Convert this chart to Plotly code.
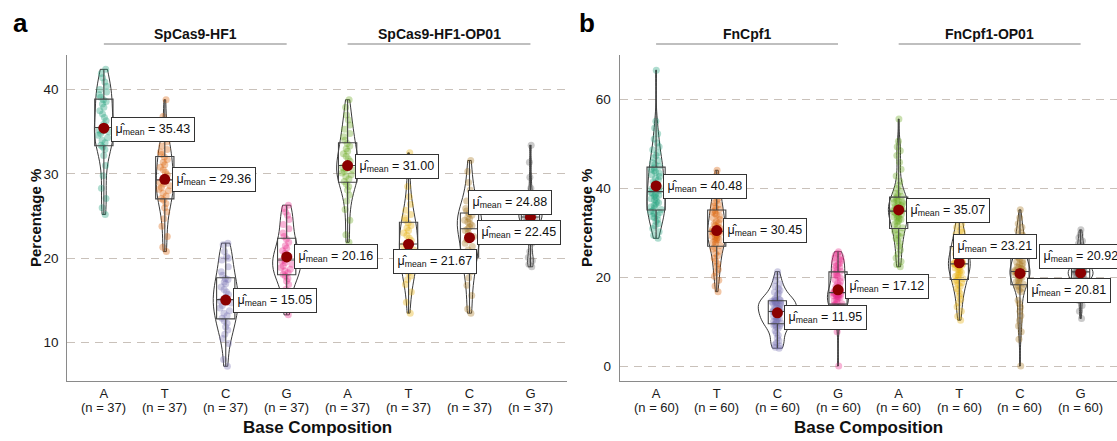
import numpy as np
import plotly.graph_objects as go

# ---------------- data ----------------
bases = ["A", "T", "C", "G", "A", "T", "C", "G"]
panel_a_groups = ["SpCas9-HF1", "SpCas9-HF1-OP01"]
panel_b_groups = ["FnCpf1", "FnCpf1-OP01"]

a_HF1_A = [25.2, 26.0, 27.1, 28.3, 29.8, 31.0, 32.2, 32.9, 33.2, 33.4, 33.7, 34.0, 34.3, 34.6, 34.8, 35.0, 35.1, 35.2, 35.5,
           35.9, 36.3, 36.7, 37.1, 37.5, 37.9, 38.3, 38.6, 38.8, 39.1, 39.4, 39.7, 40.0, 40.4, 40.9, 41.4, 41.9, 42.4]
a_HF1_T = [20.8, 21.3, 22.6, 23.8, 24.7, 25.5, 26.0, 26.5, 26.9, 27.1, 27.4, 27.7, 28.0, 28.2, 28.4, 28.6, 28.8, 29.0, 29.3,
           29.6, 29.9, 30.2, 30.5, 30.8, 31.1, 31.4, 31.7, 32.0, 32.3, 32.6, 32.9, 33.3, 33.8, 34.3, 35.0, 36.8, 38.8]
a_HF1_C = [7.2, 8.0, 9.9, 10.5, 11.0, 11.5, 11.9, 12.3, 12.6, 12.9, 13.2, 13.5, 13.8, 14.1, 14.4, 14.7, 14.9, 14.9, 15.1,
           15.4, 15.7, 16.0, 16.3, 16.6, 17.0, 17.2, 17.5, 17.6, 18.0, 18.4, 19.0, 19.8, 20.0, 20.2, 20.8, 21.6, 21.8]
a_HF1_G = [13.3, 13.9, 14.8, 15.6, 16.3, 16.9, 17.3, 17.6, 17.9, 18.1, 18.3, 18.5, 18.7, 18.9, 19.1, 19.3, 19.5, 19.7, 19.8,
           20.0, 20.2, 20.4, 20.6, 20.9, 21.2, 21.5, 21.9, 22.3, 22.6, 23.0, 23.5, 24.0, 24.6, 25.1, 25.5, 25.9, 26.3]
a_OP01_A = [21.9, 22.8, 24.5, 25.8, 26.8, 27.5, 28.1, 28.5, 28.8, 29.1, 29.4, 29.7, 29.9, 30.1, 30.3, 30.5, 30.6, 30.8, 31.0,
            31.2, 31.5, 31.8, 32.1, 32.4, 32.7, 33.0, 33.3, 33.6, 34.0, 34.4, 34.8, 35.3, 35.8, 36.4, 37.0, 37.9, 38.8]
a_OP01_T = [13.5, 14.8, 16.0, 16.9, 17.5, 17.9, 18.3, 18.6, 18.9, 19.2, 19.5, 19.8, 20.1, 20.4, 20.7, 21.0, 21.3, 21.5, 21.7,
            21.9, 22.1, 22.4, 22.7, 23.0, 23.3, 23.6, 23.9, 24.2, 24.5, 24.8, 25.2, 25.7, 26.4, 27.3, 28.5, 30.3, 32.5]
a_OP01_C = [13.5, 14.0, 15.6, 16.8, 17.7, 18.4, 19.0, 19.5, 19.9, 20.2, 20.6, 21.0, 21.4, 21.8, 22.2, 22.6, 23.0, 23.3, 23.5,
            23.7, 23.9, 24.1, 24.3, 24.5, 24.7, 24.9, 25.1, 25.3, 25.6, 25.9, 26.3, 26.8, 27.4, 28.1, 29.0, 30.3, 31.6]
a_OP01_G = [19.0, 19.3, 19.7, 20.1, 20.8, 21.8, 22.6, 23.1, 23.4, 23.6, 23.8, 24.0, 24.2, 24.3, 24.5, 24.6, 24.7, 24.8, 24.9,
            25.0, 25.1, 25.2, 25.3, 25.4, 25.5, 25.6, 25.7, 25.8, 25.9, 26.1, 26.4, 26.8, 27.5, 28.3, 29.6, 31.4, 33.4]
a_means = [35.43, 29.36, 15.05, 20.16, 31.00, 21.67, 22.45, 24.88]

b_Fn_A = [28.7, 29.4, 30.2, 30.9, 31.5, 32.0, 32.5, 32.9, 33.3, 33.6, 33.9, 34.2, 34.5, 34.7, 34.9,
          35.2, 35.5, 35.8, 36.1, 36.4, 36.7, 37.0, 37.3, 37.6, 37.9, 38.2, 38.4, 38.6, 38.8, 39.0,
          39.4, 39.8, 40.2, 40.6, 41.0, 41.4, 41.8, 42.2, 42.6, 43.0, 43.3, 43.6, 43.9, 44.2, 44.5,
          44.9, 45.3, 45.7, 46.2, 46.8, 47.3, 47.9, 48.6, 49.3, 50.1, 51.0, 52.2, 53.5, 55.0, 66.5]
b_Fn_T = [16.7, 18.0, 19.3, 20.2, 21.0, 21.7, 22.4, 23.0, 23.6, 24.2, 24.8, 25.3, 25.8, 26.3, 26.7,
          27.1, 27.5, 27.8, 28.1, 28.4, 28.5, 28.8, 29.0, 29.2, 29.4, 29.6, 29.8, 30.0, 30.1, 30.2,
          30.4, 30.7, 31.0, 31.3, 31.6, 31.9, 32.2, 32.5, 32.9, 33.3, 33.7, 34.0, 34.3, 34.6, 34.9,
          35.2, 35.5, 35.9, 36.3, 36.7, 37.2, 37.7, 38.3, 38.9, 39.6, 40.3, 41.0, 41.8, 42.8, 44.0]
b_Fn_C = [4.0, 4.2, 4.5, 4.8, 5.2, 5.7, 6.3, 6.9, 7.4, 7.9, 8.5, 8.8, 9.0, 9.2, 9.4,
          9.6, 9.8, 10.0, 10.2, 10.4, 10.6, 10.8, 11.0, 11.2, 11.4, 11.6, 11.8, 12.0, 12.1, 12.2,
          12.3, 12.5, 12.7, 12.9, 13.1, 13.3, 13.5, 13.7, 13.9, 14.1, 14.2, 14.3, 14.4, 14.5, 14.6,
          14.7, 14.8, 14.9, 15.0, 15.2, 16.0, 16.3, 16.6, 17.0, 17.4, 17.9, 18.5, 19.2, 20.1, 21.2]
b_Fn_G = [0.0, 7.7, 9.8, 10.9, 11.6, 12.1, 12.5, 12.8, 13.0, 13.2, 13.3, 13.4, 13.5, 13.6, 13.8,
          14.0, 14.3, 14.6, 14.9, 15.2, 15.4, 15.6, 15.7, 15.8, 15.9, 16.0, 16.1, 16.2, 16.3, 16.4,
          16.6, 16.8, 17.0, 17.3, 17.6, 17.9, 18.2, 18.6, 19.0, 19.4, 19.8, 20.1, 20.4, 20.7, 21.0,
          21.3, 21.6, 21.9, 22.2, 22.5, 22.8, 23.1, 23.4, 23.7, 24.0, 24.3, 24.6, 24.9, 25.3, 25.7]
b_OP01_A = [22.3, 22.8, 23.5, 24.3, 25.2, 26.1, 26.9, 27.6, 28.2, 28.7, 29.1, 29.5, 29.9, 30.3, 30.7,
            31.1, 31.5, 31.9, 32.3, 32.6, 32.9, 33.1, 33.3, 33.5, 33.7, 33.9, 34.1, 34.3, 34.5, 34.7,
            34.9, 35.1, 35.3, 35.5, 35.7, 35.9, 36.1, 36.3, 36.5, 36.7, 36.9, 37.1, 37.3, 37.5, 37.8,
            38.1, 38.4, 38.8, 39.3, 39.9, 40.6, 41.5, 42.7, 44.2, 45.8, 47.3, 48.4, 49.3, 50.5, 55.5]
b_OP01_T = [10.3, 11.2, 12.3, 13.3, 14.2, 15.0, 15.7, 16.3, 16.9, 17.4, 17.9, 18.3, 18.7, 19.0, 19.3,
            19.6, 19.9, 20.2, 20.5, 20.8, 21.1, 21.4, 21.7, 22.0, 22.2, 22.4, 22.6, 22.7, 22.8, 22.9,
            23.0, 23.2, 23.4, 23.6, 23.8, 24.0, 24.3, 24.6, 24.9, 25.2, 25.5, 25.8, 26.1, 26.4, 26.7,
            27.0, 27.3, 27.6, 27.9, 28.3, 28.7, 29.1, 29.6, 30.1, 30.6, 31.2, 31.9, 32.7, 33.5, 34.3]
b_OP01_C = [0.0, 6.0, 7.7, 9.0, 10.2, 11.3, 12.3, 13.2, 14.0, 14.8, 16.7, 17.1, 17.5, 17.8, 18.1,
            18.4, 18.7, 19.0, 19.3, 19.6, 19.9, 20.1, 20.3, 20.5, 20.7, 20.8, 20.9, 21.0, 21.1, 21.2,
            21.3, 21.5, 21.7, 21.9, 22.1, 22.3, 22.5, 22.8, 23.1, 23.4, 23.7, 24.0, 24.4, 24.8, 25.3,
            25.8, 26.3, 26.8, 27.3, 27.8, 28.0, 28.4, 28.9, 29.4, 29.9, 30.5, 31.2, 32.0, 33.3, 35.1]
b_OP01_G = [10.7, 12.3, 13.6, 14.7, 15.6, 16.3, 16.9, 17.4, 17.8, 18.1, 18.4, 18.7, 18.9, 19.1, 19.3,
            19.5, 19.7, 19.9, 20.0, 20.1, 20.2, 20.3, 20.4, 20.5, 20.6, 20.7, 20.8, 20.9, 21.0, 21.1,
            21.2, 21.3, 21.4, 21.5, 21.6, 21.7, 21.8, 22.0, 22.2, 22.4, 22.6, 22.8, 23.0, 23.2, 23.4,
            23.6, 23.9, 24.2, 24.5, 24.8, 25.2, 25.6, 26.0, 26.5, 27.0, 27.5, 28.1, 28.8, 29.6, 30.6]
b_means = [40.48, 30.45, 11.95, 17.12, 35.07, 23.21, 20.81, 20.92]

a_data = [a_HF1_A, a_HF1_T, a_HF1_C, a_HF1_G, a_OP01_A, a_OP01_T, a_OP01_C, a_OP01_G]
b_data = [b_Fn_A, b_Fn_T, b_Fn_C, b_Fn_G, b_OP01_A, b_OP01_T, b_OP01_C, b_OP01_G]

# ---------------- styles / layout constants ----------------
palette = ["#1B9E77", "#D95F02", "#7570B3", "#E7298A", "#66A61E", "#E6AB02", "#A6761D", "#666666"]
FONT = "Liberation Sans, Arial, Helvetica, sans-serif"
W, H = 1117, 441
TICK_SIZE = 13
# maximum violin widths (x units), as drawn in the original figure
a_violin_width = [0.31, 0.28, 0.41, 0.46, 0.36, 0.30, 0.40, 0.38]
b_violin_width = [0.30, 0.30, 0.63, 0.35, 0.34, 0.36, 0.33, 0.41]
# label offsets (pixels) for the mean labels: (xshift, yshift)
a_label_shift = [(7, -1), (7, 0), (7, 0), (7, 0), (7, -1), (-16, -17), (7, 5), (-62, 15)]
b_label_shift = [(7, -1), (6, 0), (7, -5), (7, 3), (7, -1), (-6, 16), (7, -17), (-42, 16)]


def nrd0(x):
    x = np.asarray(x, float)
    sd = np.std(x, ddof=1)
    q75, q25 = np.percentile(x, [75, 25])
    lo = min(sd, (q75 - q25) / 1.34)
    if lo <= 0:
        lo = sd
    return 0.9 * lo * len(x) ** -0.2


def hex_rgba(h, a):
    h = h.lstrip("#")
    return f"rgba({int(h[0:2],16)},{int(h[2:4],16)},{int(h[4:6],16)},{a})"


fig = go.Figure()


def add_panel(data, means, shifts, vwidths, xa, ya):
    for i, vals in enumerate(data):
        n = len(vals)
        xs = [i] * n
        # jittered points
        fig.add_trace(go.Box(
            x=xs, y=vals, xaxis=xa, yaxis=ya, boxpoints="all", jitter=0.65, pointpos=0,
            width=0.3, fillcolor="rgba(0,0,0,0)", line=dict(width=0, color="rgba(0,0,0,0)"),
            whiskerwidth=0, marker=dict(color=hex_rgba(palette[i], 0.35), size=7, line=dict(width=0)),
            hoverinfo="skip", showlegend=False))
        # box outline
        fig.add_trace(go.Box(
            x=xs, y=vals, xaxis=xa, yaxis=ya, boxpoints=False, width=0.3,
            fillcolor="rgba(0,0,0,0)", line=dict(width=1.1, color="#444444"), whiskerwidth=0,
            hoverinfo="skip", showlegend=False))
        # violin outline
        fig.add_trace(go.Violin(
            x=xs, y=vals, xaxis=xa, yaxis=ya, points=False, spanmode="hard",
            bandwidth=nrd0(vals), scalemode="width", width=vwidths[i],
            fillcolor="rgba(255,255,255,0)", line=dict(width=0.9, color="#222222"),
            box=dict(visible=False), meanline=dict(visible=False),
            hoverinfo="skip", showlegend=False))
    # means
    fig.add_trace(go.Scatter(
        x=list(range(len(means))), y=means, xaxis=xa, yaxis=ya, mode="markers",
        marker=dict(color="#8B0000", size=11), hoverinfo="skip", showlegend=False))
    for i, m in enumerate(means):
        fig.add_annotation(
            x=i, y=m, xref=xa, yref=ya, xanchor="left", yanchor="middle",
            xshift=shifts[i][0], yshift=shifts[i][1], showarrow=False,
            text=f"\u03bc\u0302<sub>mean</sub> = {m:.2f}",
            font=dict(family=FONT, size=12.5, color="#111111"),
            bgcolor="white", bordercolor="#333333", borderwidth=1, borderpad=3.5)
    # sample sizes under the category letters
    for i, vals in enumerate(data):
        fig.add_annotation(
            x=i, y=(H - 407.5) / H, xref=xa, yref="paper", showarrow=False,
            text=f"(n = {len(vals)})", font=dict(family=FONT, size=TICK_SIZE, color="#1a1a1a"),
            xanchor="center", yanchor="middle")


add_panel(a_data, a_means, a_label_shift, a_violin_width, "x", "y")
add_panel(b_data, b_means, b_label_shift, b_violin_width, "x2", "y2")

ydom = [60 / H, 386 / H]
axis_common = dict(showline=True, linecolor="#8a8a8a", linewidth=1.2, mirror=False,
                   tickfont=dict(family=FONT, size=13.5, color="#1a1a1a"), zeroline=False)
xaxis_common = dict(axis_common, tickfont=dict(family=FONT, size=TICK_SIZE, color="#1a1a1a"))

fig.update_layout(
    width=W, height=H, margin=dict(l=0, r=0, t=0, b=0),
    paper_bgcolor="white", plot_bgcolor="white", showlegend=False,
    boxmode="overlay", violinmode="overlay", hovermode=False,
    xaxis=dict(domain=[67.3 / W, 567 / W], range=[-0.6, 7.6], tickvals=list(range(8)), ticktext=bases,
               showgrid=False, ticks="", anchor="y", **xaxis_common),
    yaxis=dict(domain=ydom, range=[5.46, 44.1], tickvals=[10, 20, 30, 40], showgrid=True,
               gridcolor="#c9c1ba", gridwidth=1, griddash="8px,6px", ticks="outside", ticklen=5,
               tickcolor="rgba(0,0,0,0)", anchor="x", **axis_common),
    xaxis2=dict(domain=[619.7 / W, 1.0], range=[-0.6, 7.6], tickvals=list(range(8)), ticktext=bases,
                showgrid=False, ticks="", anchor="y2", **xaxis_common),
    yaxis2=dict(domain=ydom, range=[-3.37, 69.9], tickvals=[0, 20, 40, 60], showgrid=True,
                gridcolor="#c9c1ba", gridwidth=1, griddash="8px,6px", ticks="outside", ticklen=5,
                tickcolor="rgba(0,0,0,0)", anchor="x2", **axis_common),
)

# strip titles with lines
for xa, groups in (("x", panel_a_groups), ("x2", panel_b_groups)):
    for k, g in enumerate(groups):
        x0, x1 = 4 * k, 4 * k + 3
        fig.add_annotation(x=(x0 + x1) / 2, y=(H - 34) / H, xref=xa, yref="paper", showarrow=False,
                           text=f"<b>{g}</b>", font=dict(family=FONT, size=14, color="#111111"),
                           xanchor="center", yanchor="middle")
        fig.add_shape(type="line", xref=xa, yref="paper", x0=x0, x1=x1, y0=(H - 44) / H, y1=(H - 44) / H,
                      line=dict(color="#808080", width=1.1))
    # x-axis title
    fig.add_annotation(x=3.5, y=(H - 427) / H, xref=xa, yref="paper", showarrow=False,
                       text="<b>Base Composition</b>", font=dict(family=FONT, size=17, color="#111111"),
                       xanchor="center", yanchor="middle")

# y-axis titles
for xp in (36, 587):
    fig.add_annotation(x=xp / W, y=(H - 218) / H, xref="paper", yref="paper", showarrow=False,
                       text="<b>Percentage %</b>", textangle=-90,
                       font=dict(family=FONT, size=15, color="#111111"), xanchor="center", yanchor="middle")

# panel letters
for xp, letter in ((11, "a"), (577, "b")):
    fig.add_annotation(x=xp / W, y=(H - 23) / H, xref="paper", yref="paper", showarrow=False,
                       text=f"<b>{letter}</b>", font=dict(family=FONT, size=26, color="#000000"),
                       xanchor="left", yanchor="middle")

fig.write_html("out.html", config={"displayModeBar": False},
               post_script="document.body.style.margin='0px';document.body.style.overflow='hidden';")
